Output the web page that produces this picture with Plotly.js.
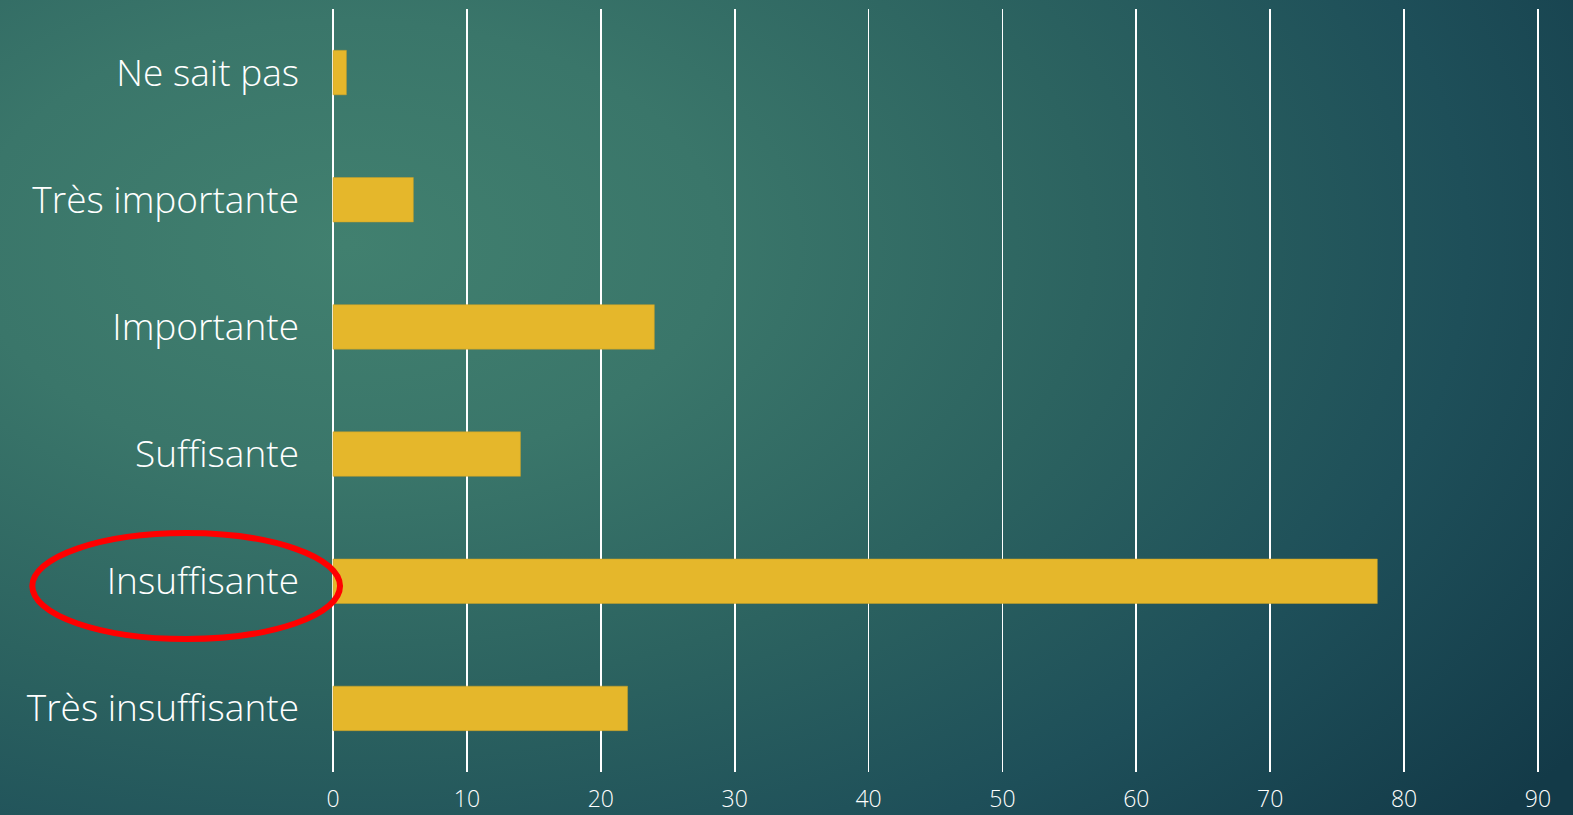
<!DOCTYPE html>
<html>
<head>
<meta charset="utf-8">
<script src="https://cdn.plot.ly/plotly-3.0.1.min.js"></script>
<style>
  html, body { margin: 0; padding: 0; width: 1573px; height: 815px; overflow: hidden; }
  body {
    background: radial-gradient(ellipse 95% 110% at 22% 30%, #41806f 0%, #3a766a 25%, #2c6360 50%, #1e4f59 75%, #133a48 100%);
  }
  #chart { width: 1573px; height: 815px; }
</style>
</head>
<body>
<div id="chart"></div>
<script>
// Data (bottom to top)
const categories = ['Très insuffisante', 'Insuffisante', 'Suffisante', 'Importante', 'Très importante', 'Ne sait pas'];
const values = [22, 78, 14, 24, 6, 1];
const tickValues = [0, 10, 20, 30, 40, 50, 60, 70, 80, 90];

const FONT = '"Open Sans", "DejaVu Sans", sans-serif';

const trace = {
  type: 'bar',
  orientation: 'h',
  y: categories,
  x: values,
  marker: { color: '#e5b72b', line: { color: '#c9a128', width: 0.5 } },
  hoverinfo: 'x+y'
};

const layout = {
  width: 1573,
  height: 815,
  margin: { l: 329, r: 31, t: 9, b: 43 },
  paper_bgcolor: 'rgba(0,0,0,0)',
  plot_bgcolor: 'rgba(0,0,0,0)',
  bargap: 0.65,
  showlegend: false,
  xaxis: {
    range: [-0.3, 90.3],
    tickvals: tickValues,
    ticktext: tickValues.map(String),
    showgrid: true,
    gridcolor: '#ffffff',
    gridwidth: 1.8,
    zeroline: true,
    zerolinecolor: '#ffffff',
    zerolinewidth: 1.8,
    showline: false,
    ticks: '',
    ticklabelstandoff: 11,
    tickfont: { family: FONT, size: 23, color: '#ffffff', weight: 300 },
    fixedrange: true
  },
  yaxis: {
    type: 'category',
    categoryorder: 'array',
    categoryarray: categories,
    showgrid: false,
    zeroline: false,
    showline: false,
    ticks: '',
    ticklabelstandoff: 29,
    tickfont: { family: FONT, size: 37, color: '#ffffff', weight: 300 },
    fixedrange: true
  },
  shapes: [
    {
      type: 'circle',
      xref: 'paper', yref: 'paper',
      x0: -0.2446, x1: 0.0091,
      y0: 0.1743, y1: 0.3132,
      line: { color: '#ff0000', width: 6 },
      fillcolor: 'rgba(0,0,0,0)',
      layer: 'above'
    }
  ]
};

Plotly.newPlot('chart', [trace], layout, { displayModeBar: false, staticPlot: true });
</script>
</body>
</html>
